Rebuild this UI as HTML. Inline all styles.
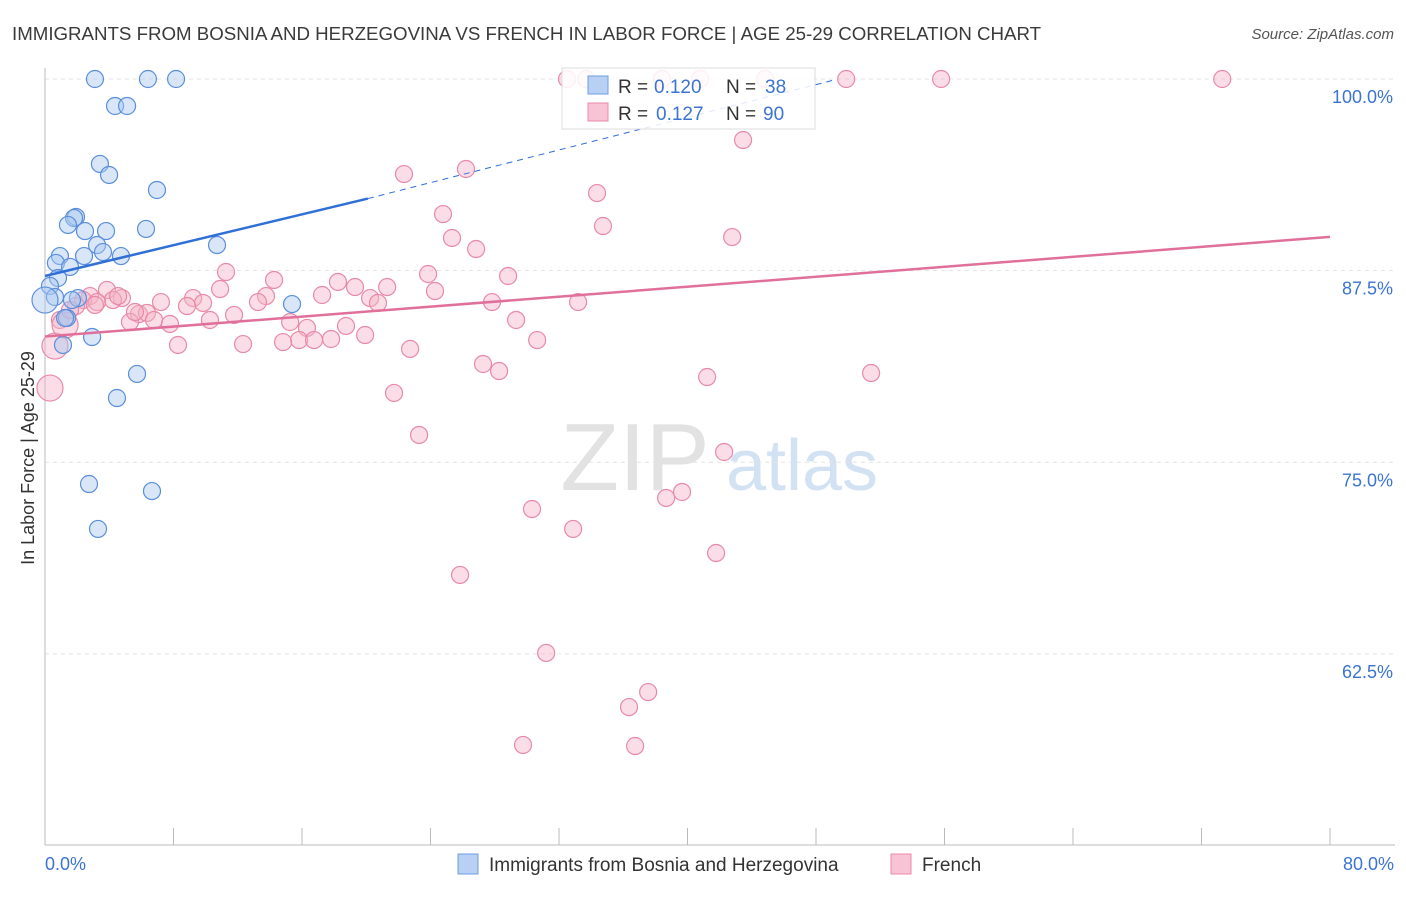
<!DOCTYPE html>
<html><head><meta charset="utf-8"><style>
body{margin:0;background:#fff;font-family:"Liberation Sans",sans-serif;}
svg text{font-family:"Liberation Sans",sans-serif;}
</style></head><body>
<svg id="chart" width="1406" height="892" viewBox="0 0 1406 892" xmlns="http://www.w3.org/2000/svg">
<text x="12" y="40" font-size="18.7" fill="#3a3a3a">IMMIGRANTS FROM BOSNIA AND HERZEGOVINA VS FRENCH IN LABOR FORCE | AGE 25-29 CORRELATION CHART</text>
<text x="1394" y="39" font-size="15" fill="#555" text-anchor="end" font-style="italic">Source: ZipAtlas.com</text>
<g>
<text x="635" y="490" font-size="96" fill="#e2e2e2" text-anchor="middle" font-family="Liberation Serif">ZIP</text>
<text x="802" y="490" font-size="72" fill="#d3e2f3" text-anchor="middle">atlas</text>
</g>
<g id="grid"></g>
<g id="axes"></g>
<g id="marks"></g>
<g id="lines"></g>
<text transform="translate(34,458) rotate(-90)" font-size="18" fill="#333" text-anchor="middle">In Labor Force | Age 25-29</text>
<g>
<rect x="562" y="68" width="253" height="61" fill="#fff" fill-opacity="0.85" stroke="#ddd"/>
<rect x="588" y="76" width="20" height="18" fill="#b7d0f3" stroke="#6d9ee0"/>
<rect x="588" y="103" width="20" height="18" fill="#f8c4d5" stroke="#e88aa8"/>
<text x="618" y="93" font-size="19" fill="#333">R =</text>
<text x="654" y="93" font-size="19" fill="#3b74d1">0.120</text>
<text x="726" y="93" font-size="19" fill="#333">N =</text>
<text x="765" y="93" font-size="19" fill="#3b74d1">38</text>
<text x="618" y="120" font-size="19" fill="#333">R =</text>
<text x="656" y="120" font-size="19" fill="#3b74d1">0.127</text>
<text x="726" y="120" font-size="19" fill="#333">N =</text>
<text x="763" y="120" font-size="19" fill="#3b74d1">90</text>
</g>
<g>
<rect x="458" y="854" width="20" height="20" fill="#b7d0f3" stroke="#6d9ee0"/>
<text x="489" y="871" font-size="19" fill="#333">Immigrants from Bosnia and Herzegovina</text>
<rect x="891" y="854" width="20" height="20" fill="#f8c4d5" stroke="#e88aa8"/>
<text x="922" y="871" font-size="19" fill="#333">French</text>
</g>
</svg>
<script>
const yTicks=[100,87.5,75,62.5];
const yTickLabels=["100.0%","87.5%","75.0%","62.5%"];
const xEndLabels=["0.0%","80.0%"];
const bluePx=[[95,79],[148,79],[176,79],[115,106],[127,106],[100,164],[109,175],[157,190],[76,217],[74,218],[68,225],[85,231],[106,231],[146,229],[97,245],[217,245],[103,252],[60,256],[121,256],[84,256],[56,263],[70,267],[58,278],[50,286],[55,297],[45,300],[78,298],[72,300],[67,318],[292,304],[92,337],[63,345],[137,374],[117,398],[89,484],[152,491],[98,529],[65,318]];
const pinkPx=[[567,79],[586,79],[662,79],[700,79],[765,79],[846,79],[941,79],[1222,79],[743,140],[404,174],[466,169],[597,193],[443,214],[603,226],[452,238],[732,237],[476,249],[226,272],[274,280],[428,274],[508,276],[338,282],[355,287],[387,287],[220,289],[266,296],[322,295],[435,291],[370,298],[378,303],[492,302],[578,302],[258,302],[193,298],[203,303],[161,302],[187,306],[107,290],[122,298],[113,300],[90,296],[83,300],[97,302],[76,306],[234,315],[139,314],[147,313],[154,320],[130,322],[170,324],[210,320],[290,322],[307,328],[346,326],[365,335],[516,320],[537,340],[299,340],[314,340],[331,339],[283,342],[243,344],[178,345],[410,349],[483,364],[499,371],[707,377],[871,373],[394,393],[419,435],[724,452],[682,492],[666,498],[532,509],[573,529],[716,553],[460,575],[546,653],[648,692],[629,707],[523,745],[635,746],[60,320],[55,346],[50,388],[65,325],[70,310],[95,305],[118,296],[135,312]];
const blueX=bluePx.map(p=>+((p[0]-45)/16.06).toFixed(2));
const blueY=bluePx.map(p=>+(100-(p[1]-79)/15.33).toFixed(2));
const pinkX=pinkPx.map(p=>+((p[0]-45)/16.06).toFixed(2));
const pinkY=pinkPx.map(p=>+(100-(p[1]-79)/15.33).toFixed(2));
const blueTrend=[[0,87.15],[20.1,92.2],[49,99.9]];
const pinkTrend=[[0,83.2],[80,89.7]];

const NS="http://www.w3.org/2000/svg";
const sx=v=>45+v*16.0625;
const sy=v=>79+(100-v)*15.33;
function mk(tag,attrs,parent){const e=document.createElementNS(NS,tag);for(const k in attrs)e.setAttribute(k,attrs[k]);parent.appendChild(e);return e;}
const grid=document.getElementById('grid'),axes=document.getElementById('axes'),marks=document.getElementById('marks'),lines=document.getElementById('lines');
yTicks.forEach((t,i)=>{
 const l=mk('line',{x1:45,x2:1395,y1:sy(t),y2:sy(t),stroke:'#e3e3e3','stroke-dasharray':'4 4'},grid);
 
 
 const tx=mk('text',{x:1393,y:sy(t)+24,'font-size':18,fill:'#3b74d1','text-anchor':'end'},axes);
 tx.textContent=yTickLabels[i];
 
 
});
const ax=mk('line',{x1:45,x2:1395,y1:845,y2:845,stroke:'#bbb'},axes);


const ay=mk('line',{x1:45,x2:45,y1:68,y2:845,stroke:'#bbb'},axes);


for(let i=0;i<=10;i++){
 const t=mk('line',{x1:sx(i*8),x2:sx(i*8),y1:828,y2:845,stroke:'#bbb'},axes);
 
 
}
[[0,'start',45],[80,'end',1394]].forEach((d,i)=>{
 const t=mk('text',{x:d[2],y:870,'font-size':18,fill:'#3b74d1','text-anchor':d[1]},axes);
 t.textContent=xEndLabels[i];
 
 
});
function dots(X,Y,fill,stroke,name,bigIdx){
 X.forEach((x,i)=>{
  const big=bigIdx.indexOf(i)>=0;
  const c=mk('circle',{cx:sx(x),cy:sy(Y[i]),r:big?13:8.5,fill:fill,'fill-opacity':0.45,stroke:stroke,'stroke-width':1.2},marks);
  
  
 });
}
dots(pinkX,pinkY,'#f5b3c8','#e88aa8','french-point',[83,84,85]);
dots(blueX,blueY,'#a9c8f0','#5b8fdc','bosnia-point',[25]);
const b1=mk('line',{x1:sx(blueTrend[0][0]),y1:sy(blueTrend[0][1]),x2:sx(blueTrend[1][0]),y2:sy(blueTrend[1][1]),stroke:'#2f6fd6','stroke-width':2.5},lines);


const b2=mk('line',{x1:sx(blueTrend[1][0]),y1:sy(blueTrend[1][1]),x2:sx(blueTrend[2][0]),y2:sy(blueTrend[2][1]),stroke:'#2f6fd6','stroke-width':1,'stroke-dasharray':'6 5'},lines);


const p1=mk('line',{x1:sx(pinkTrend[0][0]),y1:sy(pinkTrend[0][1]),x2:sx(pinkTrend[1][0]),y2:sy(pinkTrend[1][1]),stroke:'#e0709a','stroke-width':2.5},lines);


</script>
</body></html>
